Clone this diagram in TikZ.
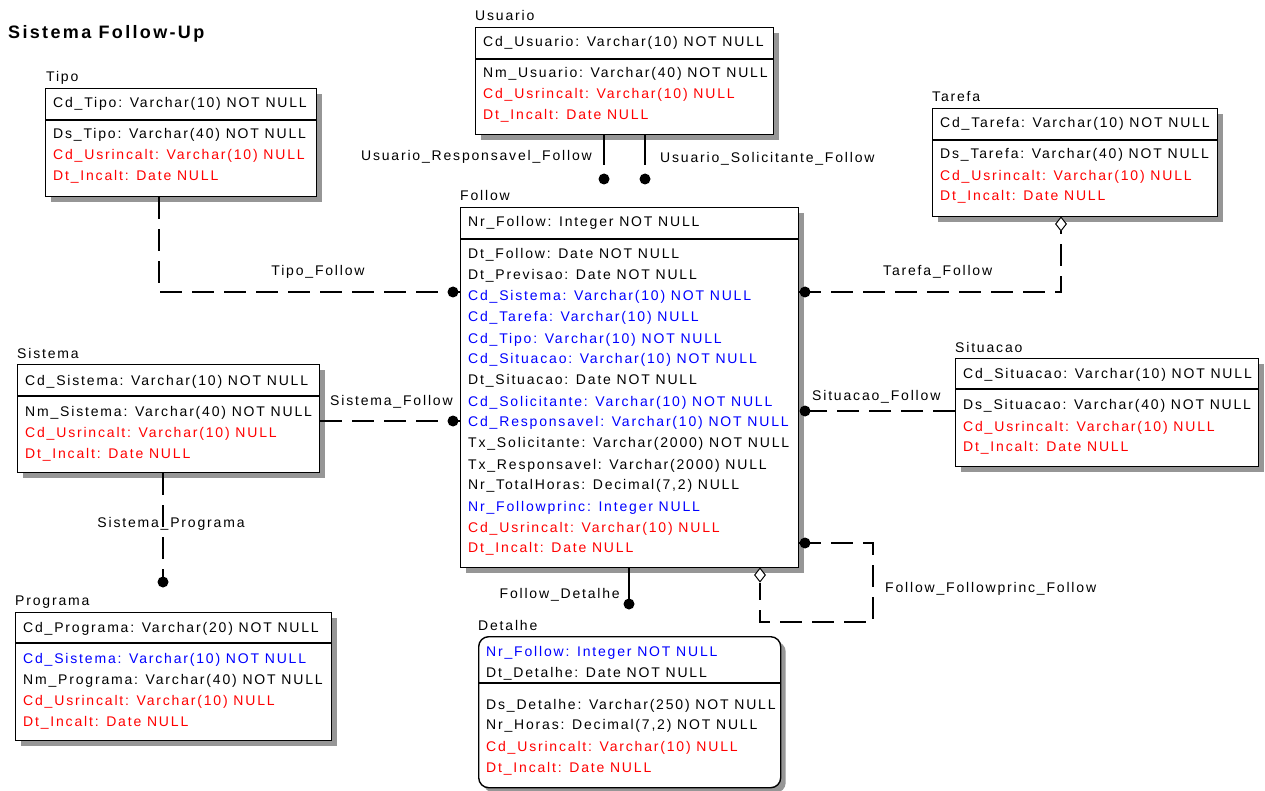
\documentclass[tikz,border=0pt]{standalone}
\usepackage{fontspec}
\setmainfont{Liberation Sans}[LetterSpace=13]
\usetikzlibrary{shadows,shapes.geometric}
\definecolor{fkblue}{RGB}{0,0,255}
\definecolor{optred}{RGB}{255,0,0}
\definecolor{shadowgray}{RGB}{150,150,150}
\begin{document}
\begin{tikzpicture}[x=1pt,y=-1pt,
  every node/.style={font=\fontsize{14}{16}\selectfont, inner sep=0pt},
  ent/.style={draw, line width=1.4pt, fill=white, anchor=north west,
    general shadow={shadow xshift=5pt, shadow yshift=-5pt, fill=shadowgray}},
  row/.style={anchor=base west},
  fk/.style={row, text=fkblue},
  opt/.style={row, text=optred},
  rel/.style={line width=1.5pt},
  nrel/.style={line width=1.5pt, dash pattern=on 22pt off 10pt},
  lbl/.style={anchor=base west},
  dot/.style={circle, fill=black, minimum size=11pt, inner sep=0pt},
  hdiam/.style={diamond, draw, fill=white, line width=1pt, minimum width=11pt, minimum height=14pt, inner sep=0pt},
  divline/.style={line width=1.2pt}
]
\useasboundingbox (0,0) rectangle (1265,791);
\fill[white] (0,0) rectangle (1265,791);

% Title
\node[lbl, font=\fontsize{18}{20}\selectfont\bfseries] (title) at (8,39) {Sistema Follow-Up};

% ---------- Tipo
\node[lbl] (tipoL) at (46,82) {Tipo};
\node[ent, minimum width=271pt, minimum height=108pt] (tipo) at (45,88) {};
\draw[divline] (tipo.west |- 0,120) -- (tipo.east |- 0,120);
\node[row] (tipo1) at (53,108) {Cd\_Tipo: Varchar(10) NOT NULL};
\node[row] (tipo2) at (53,139) {Ds\_Tipo: Varchar(40) NOT NULL};
\node[opt] (tipo3) at (53,160) {Cd\_Usrincalt: Varchar(10) NULL};
\node[opt] (tipo4) at (53,181) {Dt\_Incalt: Date NULL};

% ---------- Usuario
\node[lbl] (usuL) at (475,21) {Usuario};
\node[ent, minimum width=298pt, minimum height=107pt] (usu) at (475,27) {};
\draw[divline] (usu.west |- 0,59) -- (usu.east |- 0,59);
\node[row] (usu1) at (483,47) {Cd\_Usuario: Varchar(10) NOT NULL};
\node[row] (usu2) at (483,78) {Nm\_Usuario: Varchar(40) NOT NULL};
\node[opt] (usu3) at (483,99) {Cd\_Usrincalt: Varchar(10) NULL};
\node[opt] (usu4) at (483,120) {Dt\_Incalt: Date NULL};

% ---------- Tarefa
\node[lbl] (tarL) at (932,102) {Tarefa};
\node[ent, minimum width=285pt, minimum height=108pt] (tar) at (932,108) {};
\draw[divline] (tar.west |- 0,140) -- (tar.east |- 0,140);
\node[row] (tar1) at (940,128) {Cd\_Tarefa: Varchar(10) NOT NULL};
\node[row] (tar2) at (940,159) {Ds\_Tarefa: Varchar(40) NOT NULL};
\node[opt] (tar3) at (940,181) {Cd\_Usrincalt: Varchar(10) NULL};
\node[opt] (tar4) at (940,201) {Dt\_Incalt: Date NULL};

% ---------- Follow
\node[lbl] (folL) at (460,201) {Follow};
\node[ent, minimum width=338pt, minimum height=360pt] (fol) at (460,207) {};
\draw[divline] (fol.west |- 0,239) -- (fol.east |- 0,239);
\node[row] (fol1) at (468,227) {Nr\_Follow: Integer NOT NULL};
\node[row] (fol2) at (468,259) {Dt\_Follow: Date NOT NULL};
\node[row] (fol3) at (468,280) {Dt\_Previsao: Date NOT NULL};
\node[fk]  (fol4) at (468,301) {Cd\_Sistema: Varchar(10) NOT NULL};
\node[fk]  (fol5) at (468,322) {Cd\_Tarefa: Varchar(10) NULL};
\node[fk]  (fol6) at (468,343) {Cd\_Tipo: Varchar(10) NOT NULL};
\node[fk]  (fol7) at (468,363) {Cd\_Situacao: Varchar(10) NOT NULL};
\node[row] (fol8) at (468,384) {Dt\_Situacao: Date NOT NULL};
\node[fk]  (fol9) at (468,406) {Cd\_Solicitante: Varchar(10) NOT NULL};
\node[fk]  (fol10) at (468,426) {Cd\_Responsavel: Varchar(10) NOT NULL};
\node[row] (fol11) at (468,447) {Tx\_Solicitante: Varchar(2000) NOT NULL};
\node[row] (fol12) at (468,469) {Tx\_Responsavel: Varchar(2000) NULL};
\node[row] (fol13) at (468,489) {Nr\_TotalHoras: Decimal(7,2) NULL};
\node[fk]  (fol14) at (468,511) {Nr\_Followprinc: Integer NULL};
\node[opt] (fol15) at (468,532) {Cd\_Usrincalt: Varchar(10) NULL};
\node[opt] (fol16) at (468,552) {Dt\_Incalt: Date NULL};

% ---------- Sistema
\node[lbl] (sisL) at (17,358) {Sistema};
\node[ent, minimum width=302pt, minimum height=108pt] (sis) at (17,364) {};
\draw[divline] (sis.west |- 0,396) -- (sis.east |- 0,396);
\node[row] (sis1) at (25,385) {Cd\_Sistema: Varchar(10) NOT NULL};
\node[row] (sis2) at (25,416) {Nm\_Sistema: Varchar(40) NOT NULL};
\node[opt] (sis3) at (25,437) {Cd\_Usrincalt: Varchar(10) NULL};
\node[opt] (sis4) at (25,458) {Dt\_Incalt: Date NULL};

% ---------- Situacao
\node[lbl] (sitL) at (955,352) {Situacao};
\node[ent, minimum width=303pt, minimum height=108pt] (sit) at (955,358) {};
\draw[divline] (sit.west |- 0,389) -- (sit.east |- 0,389);
\node[row] (sit1) at (963,378) {Cd\_Situacao: Varchar(10) NOT NULL};
\node[row] (sit2) at (963,409) {Ds\_Situacao: Varchar(40) NOT NULL};
\node[opt] (sit3) at (963,431) {Cd\_Usrincalt: Varchar(10) NULL};
\node[opt] (sit4) at (963,451) {Dt\_Incalt: Date NULL};

% ---------- Programa
\node[lbl] (proL) at (15,605) {Programa};
\node[ent, minimum width=316pt, minimum height=128pt] (pro) at (15,612) {};
\draw[divline] (pro.west |- 0,643) -- (pro.east |- 0,643);
\node[row] (pro1) at (23,632) {Cd\_Programa: Varchar(20) NOT NULL};
\node[fk]  (pro2) at (23,663) {Cd\_Sistema: Varchar(10) NOT NULL};
\node[row] (pro3) at (23,684) {Nm\_Programa: Varchar(40) NOT NULL};
\node[opt] (pro4) at (23,705) {Cd\_Usrincalt: Varchar(10) NULL};
\node[opt] (pro5) at (23,726) {Dt\_Incalt: Date NULL};

% ---------- Detalhe
\node[lbl] (detL) at (478,630) {Detalhe};
\node[ent, rounded corners=10pt, minimum width=302pt, minimum height=151pt] (det) at (478,636) {};
\draw[divline] (det.west |- 0,683) -- (det.east |- 0,683);
\node[fk]  (det1) at (486,656) {Nr\_Follow: Integer NOT NULL};
\node[row] (det2) at (486,677) {Dt\_Detalhe: Date NOT NULL};
\node[row] (det3) at (486,709) {Ds\_Detalhe: Varchar(250) NOT NULL};
\node[row] (det4) at (486,729) {Nr\_Horas: Decimal(7,2) NOT NULL};
\node[opt] (det5) at (486,751) {Cd\_Usrincalt: Varchar(10) NULL};
\node[opt] (det6) at (486,772) {Dt\_Incalt: Date NULL};

% ================= Relationships
% Usuario -> Follow
\node[dot] (dResp) at (604,179) {};
\node[dot] (dSol) at (645,179) {};
\draw[rel] (usu.south -| dResp) -- (604,165);
\draw[rel] (usu.south -| dSol) -- (645,165);
\node[anchor=base east] (lResp) at (592,161) {Usuario\_Responsavel\_Follow};
\node[lbl] (lSol) at (660,163) {Usuario\_Solicitante\_Follow};

% Tipo_Follow
\node[dot] (dTipo) at (453,292) {};
\draw[nrel] (tipo.south -| 159,0) |- (fol.west |- dTipo);
\node[anchor=base] (lTipo) at (318,276) {Tipo\_Follow};

% Sistema_Follow
\node[dot] (dSis) at (453,421) {};
\draw[nrel] (sis.east |- dSis) -- (fol.west |- dSis);
\node[lbl] (lSis) at (330,405) {Sistema\_Follow};

% Tarefa_Follow
\node[dot] (dTar) at (805,292) {};
\node[hdiam] (diaTar) at (1061,224) {};
\draw[nrel] (fol.east |- dTar) -| (diaTar.south);
\node[lbl] (lTar) at (883,276) {Tarefa\_Follow};

% Situacao_Follow
\node[dot] (dSit) at (805,411) {};
\draw[nrel] (sit.west |- dSit) -- (fol.east |- dSit);
\node[lbl] (lSit) at (812,400) {Situacao\_Follow};

% Follow_Followprinc_Follow
\node[dot] (dRec) at (805,543) {};
\node[hdiam] (diaRec) at (760,575) {};
\draw[nrel] (fol.east |- dRec) -- (873,543) -- (873,622) -- (760,622) -- (diaRec.south);
\node[lbl] (lRec) at (885,592) {Follow\_Followprinc\_Follow};

% Follow_Detalhe
\node[dot] (dDet) at (629,604) {};
\draw[rel] (fol.south -| dDet) -- (dDet.center);
\node[anchor=base east] (lDet) at (620,598) {Follow\_Detalhe};

% Sistema_Programa
\node[dot] (dPro) at (163,582) {};
\draw[nrel] (sis.south -| dPro) -- (dPro.center);
\node[anchor=base] (lPro) at (171,527) {Sistema\_Programa};
\end{tikzpicture}
\end{document}
